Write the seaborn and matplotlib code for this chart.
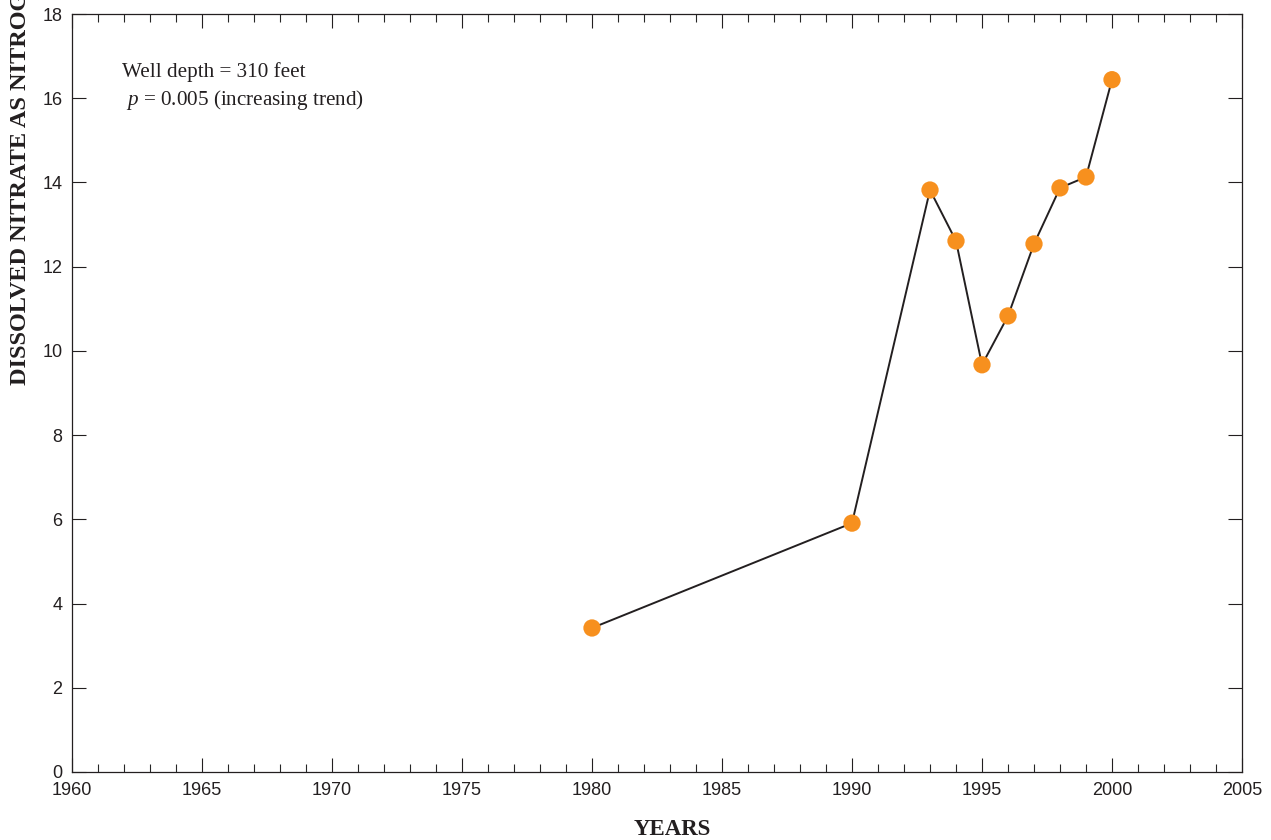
#Add libraries
import pandas as pd
import matplotlib.pyplot as plt
import seaborn as sns
from matplotlib.ticker import MultipleLocator

#Data
years = [1980, 1990, 1993, 1994, 1995, 1996, 1997, 1998, 1999, 2000]
nitrate = [3.42, 5.91, 13.82, 12.61, 9.67, 10.83, 12.54, 13.87, 14.13, 16.44]

df = pd.DataFrame({'Year': years, 'Nitrate': nitrate})

#Style
sns.set_style('ticks')
plt.rcParams['font.family'] = ['Liberation Sans', 'DejaVu Sans']
plt.rcParams['mathtext.fontset'] = 'custom'
plt.rcParams['mathtext.it'] = 'Liberation Serif:italic'
plt.rcParams['mathtext.rm'] = 'Liberation Serif'

serif = 'Liberation Serif'
ink = '#231F20'
dot_color = '#F7901E'

fig = plt.figure(figsize=(12.71, 8.40), dpi=100)
ax = fig.add_axes([72 / 1271, 68 / 840, 1170 / 1271, 758 / 840])

#Line and markers
sns.lineplot(data=df, x='Year', y='Nitrate', color=ink, linewidth=1.4, ax=ax, zorder=2)
sns.scatterplot(data=df, x='Year', y='Nitrate', color=dot_color, s=155, edgecolor='none', ax=ax, zorder=3)

#Axes limits and ticks
ax.set_xlim(1960, 2005)
ax.set_ylim(0, 18)
ax.xaxis.set_major_locator(MultipleLocator(5))
ax.xaxis.set_minor_locator(MultipleLocator(1))
ax.yaxis.set_major_locator(MultipleLocator(2))
ax.tick_params(axis='both', which='major', direction='in', length=10, width=0.8,
               top=True, right=True, labelsize=13, colors=ink, pad=7)
ax.tick_params(axis='x', which='minor', direction='in', length=6, width=0.8, top=True)
for spine in ax.spines.values():
    spine.set_visible(True)
    spine.set_linewidth(0.9)
    spine.set_color(ink)

#Axis labels
ax.set_xlabel('YEARS', fontsize=16.5, fontweight='bold', fontname=serif, color=ink)
ax.xaxis.set_label_coords((672 - 72) / 1170, -0.062)
ax.set_ylabel('')
fig.text(20 / 1271, 1 - 385 / 840, 'DISSOLVED NITRATE AS NITROGEN, IN MILLIGRAMS PER LITER',
         rotation=90, ha='center', va='bottom', fontsize=17.5, fontweight='bold',
         fontname=serif, color=ink)

#Annotation
ax.text((122 - 72) / 1170, 0.937, 'Well depth = 310 feet', transform=ax.transAxes,
        fontsize=15.2, fontname=serif, color=ink, va='top')
ax.text((126 - 72) / 1170, 0.902, r'$\it{p}$ = 0.005 (increasing trend)', transform=ax.transAxes,
        fontsize=15.2, fontname=serif, color=ink, va='top')

fig.savefig('out.png', dpi=100)
plt.close()
